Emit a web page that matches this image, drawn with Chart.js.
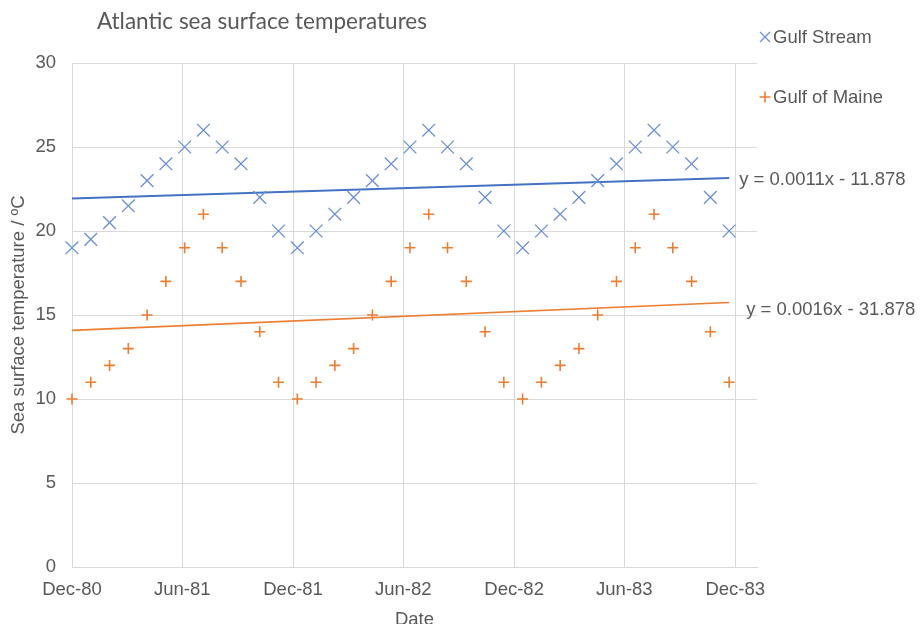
<!DOCTYPE html>
<html>
<head>
<meta charset="utf-8">
<title>Atlantic sea surface temperatures</title>
<script src="https://cdn.jsdelivr.net/npm/chart.js@4.4.1/dist/chart.umd.min.js"></script>
<style>
  html, body { margin: 0; padding: 0; background: #fff; }
  #wrap { width: 920px; height: 624px; position: relative; }
</style>
</head>
<body>
<div id="wrap"><canvas id="sstChart"></canvas></div>
<script>
// days after 1 Dec 1980 for each reading
const sampleDays = [0, 31, 62, 93, 124, 155, 186, 217, 248, 279, 310, 341,
  372, 403, 434, 465, 496, 527, 558, 589, 620, 651, 682, 713,
  744, 775, 806, 837, 868, 899, 930, 961, 992, 1023, 1054, 1085];

const gulfStream = [19, 19.5, 20.5, 21.5, 23, 24, 25, 26, 25, 24, 22, 20,
  19, 20, 21, 22, 23, 24, 25, 26, 25, 24, 22, 20,
  19, 20, 21, 22, 23, 24, 25, 26, 25, 24, 22, 20];

const gulfOfMaine = [10, 11, 12, 13, 15, 17, 19, 21, 19, 17, 14, 11,
  10, 11, 12, 13, 15, 17, 19, 21, 19, 17, 14, 11,
  10, 11, 12, 13, 15, 17, 19, 21, 19, 17, 14, 11];

const tickDays = [0, 182, 365, 547, 730, 912, 1095];
const tickLabels = ['Dec-80', 'Jun-81', 'Dec-81', 'Jun-82', 'Dec-82', 'Jun-83', 'Dec-83'];
const seriesNames = ['Gulf Stream', 'Gulf of Maine'];
const equations = ['y = 0.0011x - 11.878', 'y = 0.0016x - 31.878'];

const BLUE = '#4472C4';
const BLUE_MARK = '#6a8fd4';
const ORANGE = '#ED7D31';
const TEXT = '#595959';
const GRID = '#d9d9d9';
const FONT = '"Liberation Sans", Arial, sans-serif';

// least squares line, returned as its two end points
function fitLine(xs, ys) {
  const n = xs.length;
  const mx = xs.reduce((a, b) => a + b, 0) / n;
  const my = ys.reduce((a, b) => a + b, 0) / n;
  let sxy = 0, sxx = 0;
  xs.forEach((x, i) => {
    sxy += (x - mx) * (ys[i] - my);
    sxx += (x - mx) * (x - mx);
  });
  const m = sxy / sxx;
  return [xs[0], xs[n - 1]].map(x => ({ x: x, y: my + m * (x - mx) }));
}

const toPoints = ys => ys.map((y, i) => ({ x: sampleDays[i], y: y }));

function marker(ctx, style, x, y, r, color, width) {
  ctx.save();
  ctx.strokeStyle = color;
  ctx.lineWidth = width;
  ctx.beginPath();
  if (style === 'crossRot') {
    ctx.moveTo(x - r, y - r); ctx.lineTo(x + r, y + r);
    ctx.moveTo(x - r, y + r); ctx.lineTo(x + r, y - r);
  } else {
    ctx.moveTo(x - r, y); ctx.lineTo(x + r, y);
    ctx.moveTo(x, y - r); ctx.lineTo(x, y + r);
  }
  ctx.stroke();
  ctx.restore();
}

const decor = {
  id: 'decor',
  afterDraw(chart) {
    const ctx = chart.ctx;
    ctx.save();
    ctx.fillStyle = TEXT;
    ctx.textBaseline = 'middle';
    ctx.textAlign = 'left';

    // title
    ctx.font = '22.5px Lato, "Open Sans", sans-serif';
    ctx.fillText('Atlantic sea surface temperatures', 97, 22);

    // legend
    ctx.font = '18.5px ' + FONT;
    marker(ctx, 'crossRot', 765, 37, 5, BLUE_MARK, 1.2);
    ctx.fillText(seriesNames[0], 773, 38);
    marker(ctx, 'cross', 765, 97, 5.5, ORANGE, 1.6);
    ctx.fillText(seriesNames[1], 773, 98);

    // trendline equations next to the line ends
    const endBlue = chart.getDatasetMeta(2).data[1];
    const endOrange = chart.getDatasetMeta(3).data[1];
    ctx.fillText(equations[0], endBlue.x + 10, endBlue.y + 2);
    ctx.fillText(equations[1], endOrange.x + 17, endOrange.y + 7);
    ctx.restore();
  }
};

Chart.defaults.font.family = FONT;
Chart.defaults.font.size = 18.5;
Chart.defaults.color = TEXT;

const ctx = document.getElementById('sstChart').getContext('2d');
const sstChart = new Chart(ctx, {
  type: 'scatter',
  data: {
    datasets: [{
      label: seriesNames[0],
      data: toPoints(gulfStream),
      pointStyle: 'crossRot',
      pointRadius: 9,
      pointHoverRadius: 9,
      borderColor: BLUE_MARK,
      backgroundColor: BLUE_MARK,
      pointBorderWidth: 1.3,
      clip: false
    }, {
      label: seriesNames[1],
      data: toPoints(gulfOfMaine),
      pointStyle: 'cross',
      pointRadius: 5.5,
      pointHoverRadius: 5.5,
      borderColor: ORANGE,
      backgroundColor: ORANGE,
      pointBorderWidth: 1.6,
      clip: false
    }, {
      type: 'line',
      label: 'trend 1',
      data: fitLine(sampleDays, gulfStream),
      borderColor: BLUE,
      borderWidth: 2,
      pointRadius: 0,
      fill: false
    }, {
      type: 'line',
      label: 'trend 2',
      data: fitLine(sampleDays, gulfOfMaine),
      borderColor: ORANGE,
      borderWidth: 1.6,
      pointRadius: 0,
      fill: false
    }]
  },
  options: {
    responsive: true,
    maintainAspectRatio: false,
    animation: false,
    layout: {
      padding: { left: 0, right: 163, top: 63, bottom: 0 }
    },
    plugins: {
      legend: { display: false },
      title: { display: false },
      tooltip: { enabled: false }
    },
    scales: {
      x: {
        type: 'linear',
        min: 0,
        max: 1131,
        afterBuildTicks: s => { s.ticks = tickDays.map(v => ({ value: v })); },
        afterFit: s => { s.height = 57; },
        ticks: {
          autoSkip: false,
          maxRotation: 0,
          padding: 12,
          callback: v => tickLabels[tickDays.indexOf(v)]
        },
        grid: { color: GRID, drawTicks: false },
        border: { color: GRID },
        title: {
          display: true,
          text: 'Date',
          font: { size: 18.5, lineHeight: 0.4 },
          padding: 0
        }
      },
      y: {
        min: 0,
        max: 30,
        afterFit: s => { s.width = 72; },
        ticks: { stepSize: 5, padding: 16 },
        grid: { color: GRID, drawTicks: false },
        border: { color: GRID },
        title: {
          display: true,
          text: 'Sea surface temperature / ºC',
          font: { size: 18.5 },
          padding: { top: 8, bottom: 0 }
        }
      }
    }
  },
  plugins: [decor]
});
</script>
</body>
</html>
